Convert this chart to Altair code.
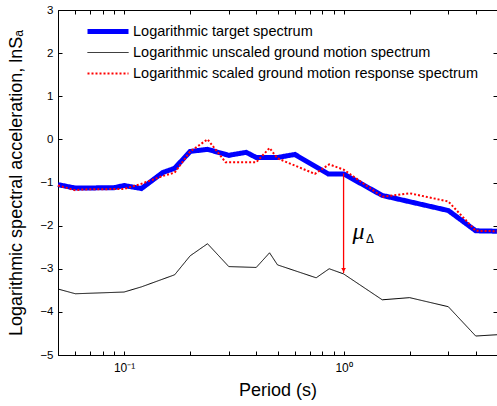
import altair as alt
import pandas as pd

# ---- data ----
series_names = [
    "Logarithmic target spectrum",
    "Logarithmic unscaled ground motion spectrum",
    "Logarithmic scaled ground motion response spectrum",
]

T_target = [0.05, 0.06, 0.09, 0.1, 0.12, 0.15, 0.17, 0.2, 0.24, 0.3, 0.36, 0.4, 0.5, 0.6, 0.85, 1.0, 1.5, 3.0, 4.0, 5.0]
target = [-1.05, -1.13, -1.12, -1.07, -1.14, -0.77, -0.67, -0.28, -0.23, -0.37, -0.30, -0.42, -0.42, -0.35, -0.80, -0.80, -1.30, -1.65, -2.12, -2.13]

T_unscaled = [0.05, 0.06, 0.1, 0.12, 0.17, 0.2, 0.24, 0.3, 0.4, 0.46, 0.5, 0.75, 0.86, 1.0, 1.5, 2.0, 3.0, 4.0, 5.0]
unscaled = [-3.47, -3.58, -3.54, -3.42, -3.14, -2.70, -2.42, -2.95, -2.97, -2.63, -2.91, -3.21, -3.00, -3.12, -3.72, -3.67, -3.88, -4.56, -4.53]

T_scaled = [0.05, 0.06, 0.065, 0.1, 0.12, 0.15, 0.17, 0.2, 0.24, 0.29, 0.4, 0.46, 0.5, 0.74, 0.86, 1.0, 1.5, 2.0, 3.0, 4.0, 5.0]
scaled = [-1.07, -1.18, -1.16, -1.15, -1.03, -0.85, -0.77, -0.28, 0.0, -0.53, -0.53, -0.20, -0.44, -0.80, -0.58, -0.70, -1.33, -1.25, -1.44, -2.12, -2.13]

x_ticks = [0.05, 0.06, 0.07, 0.08, 0.09, 0.1, 0.2, 0.3, 0.4, 0.5, 0.6, 0.7, 0.8, 0.9, 1, 2, 3, 4, 5]
y_ticks = [-5, -4, -3, -2, -1, 0, 1, 2, 3]

arrow_T = [1.0]
arrow_top = [-0.79]
arrow_bottom = [-3.10]

label_T = [1.17, 1.32]
label_y = [-2.14, -2.32]
label_text = ["μ", "Δ"]

colors = ["#0000ff", "#000000", "#ff0000"]
widths = [5, 1, 2]
dashes = [[1, 0], [1, 0], [2, 2]]

W, H = 439, 345
FONT = "Liberation Sans"

# ---- tables ----
rows = []
for name, ts, vs in zip(series_names, [T_target, T_unscaled, T_scaled], [target, unscaled, scaled]):
    for t, v in zip(ts, vs):
        rows.append({"series": name, "T": t, "v": v})
df = pd.DataFrame(rows)
arrow_df = pd.DataFrame({"T": arrow_T, "top": arrow_top, "bottom": arrow_bottom})
lab_df = pd.DataFrame({"T": label_T, "y": label_y, "text": label_text})

xscale = alt.Scale(type="log", domain=[0.05, 5], nice=False)
yscale = alt.Scale(domain=[-5, 3], nice=False)

label_expr = "abs(datum.value-0.1)<1e-6 ? '10⁻¹' : (abs(datum.value-1)<1e-6 ? '10⁰' : '')"

x_main = alt.Axis(values=x_ticks, labelExpr=label_expr, tickSize=0, labelPadding=7,
                  title="Period (s)", titlePadding=8, titleFontSize=18, titleFontWeight="normal",
                  labelFontSize=12, grid=False, domain=False, labelFont=FONT, titleFont=FONT,
                  labelColor="black", titleColor="black")
y_main = alt.Axis(values=y_ticks, tickSize=0, labelPadding=5, title="Logarithmic spectral acceleration, lnSₐ",
                  titlePadding=14, titleFontSize=18, titleFontWeight="normal", labelFontSize=11.5,
                  grid=False, domain=False, labelFont=FONT, titleFont=FONT,
                  labelColor="black", titleColor="black")

def tick_axis(orient, offset, vals):
    return alt.Axis(orient=orient, offset=offset, values=vals, labels=False, tickSize=4,
                    tickColor="black", domain=False, grid=False, title=None)

leg = dict(orient="none", legendX=27, legendY=11, title=None)

lines = alt.Chart(df).mark_line(strokeCap="butt").encode(
    x=alt.X("T:Q", scale=xscale, axis=x_main),
    y=alt.Y("v:Q", scale=yscale, axis=y_main),
    color=alt.Color("series:N", scale=alt.Scale(domain=series_names, range=colors),
                    legend=alt.Legend(symbolType="stroke", symbolSize=1681, labelFontSize=14.5,
                                      labelFont=FONT, labelColor="black", rowPadding=0,
                                      clipHeight=21, labelLimit=500, labelOffset=2,
                                      padding=0, **leg)),
    strokeWidth=alt.StrokeWidth("series:N",
                                scale=alt.Scale(type="ordinal", domain=series_names, range=widths),
                                legend=alt.Legend(**leg)),
    strokeDash=alt.StrokeDash("series:N",
                              scale=alt.Scale(type="ordinal", domain=series_names, range=dashes),
                              legend=alt.Legend(**leg)),
    detail="series:N",
    order=alt.Order("T:Q"),
)

rule = alt.Chart(arrow_df).mark_rule(strokeWidth=1.3, opacity=1).encode(
    x=alt.X("T:Q", scale=xscale, axis=tick_axis("top", -H, x_ticks)),
    y=alt.Y("top:Q", scale=yscale, axis=tick_axis("right", -W, y_ticks)),
    y2="bottom:Q",
    color=alt.value("#ff0000"),
)

head = alt.Chart(arrow_df).mark_point(shape="triangle-down", filled=True, size=22,
                                      opacity=1, yOffset=-3).encode(
    x=alt.X("T:Q", scale=xscale, axis=tick_axis("bottom", -H, x_ticks)),
    y=alt.Y("bottom:Q", scale=yscale, axis=tick_axis("left", -W, y_ticks)),
    color=alt.value("#ff0000"),
)

mu = alt.Chart(lab_df).transform_filter("datum.text == 'μ'").mark_text(
    fontSize=24, fontStyle="italic", font="Liberation Serif", color="black").encode(
    x=alt.X("T:Q", scale=xscale, axis=None),
    y=alt.Y("y:Q", scale=yscale, axis=None),
    text="text:N",
)
delta = alt.Chart(lab_df).transform_filter("datum.text == 'Δ'").mark_text(
    fontSize=12, font=FONT, color="black").encode(
    x=alt.X("T:Q", scale=xscale, axis=None),
    y=alt.Y("y:Q", scale=yscale, axis=None),
    text="text:N",
)

chart = alt.layer(lines, rule, head, mu, delta).resolve_axis(
    x="independent", y="independent"
).properties(
    width=W, height=H,
    autosize=alt.AutoSizeParams(type="none"),
    padding={"left": 58, "top": 10, "right": 0, "bottom": 51},
    background="white",
).configure_view(stroke="black", strokeWidth=1)

chart.save("out.html", embed_options={"renderer": "svg", "actions": False})
